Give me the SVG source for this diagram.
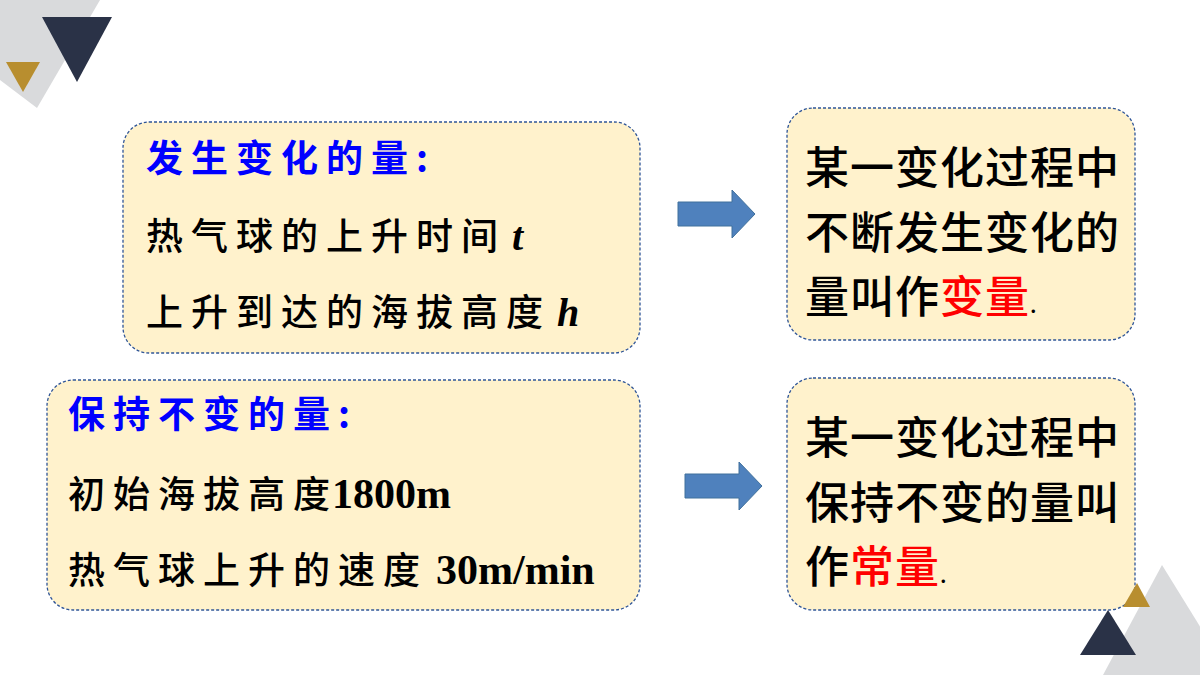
<svg xmlns="http://www.w3.org/2000/svg" width="1200" height="675" viewBox="0 0 1200 675">
<style>
.box{fill:#FFF2CC;stroke:#2F5597;stroke-width:1.3;stroke-dasharray:3 2}
.arr{fill:#4F81BD;stroke:#41719C;stroke-width:1}
.t{font-family:"Noto Sans CJK SC",sans-serif;font-size:37px;fill:#000;letter-spacing:8px;font-weight:500}
.h{fill:#0000FF;font-weight:bold}
.b{font-family:"Noto Sans CJK SC",sans-serif;font-size:44px;fill:#000;font-weight:500;letter-spacing:1px}
.r{fill:#FF0000}
.m{font-family:"Liberation Serif",serif;font-weight:bold;letter-spacing:0}
</style>
<rect width="1200" height="675" fill="#fff"/>
<polygon points="-10,0 100,0 37,108 0,80" fill="#D9DADC"/>
<polygon points="42,17 112,17 77,82" fill="#2A3247"/>
<polygon points="6,62 40,62 23,92" fill="#B88E2F"/>
<polygon points="1162,565 1230,675 1103,675" fill="#D9DADC"/>
<g id="n1"><rect class="box" x="123" y="122" width="517" height="231" rx="26"/>
<text class="t h" x="146" y="172">发生变化的量:</text>
<text class="t" x="146" y="250">热气球的上升时间<tspan class="m" font-style="italic" font-size="40" dx="6">t</tspan></text>
<text class="t" x="146" y="326">上升到达的海拔高度<tspan class="m" font-style="italic" font-size="40" dx="6">h</tspan></text></g>
<g id="n2"><rect class="box" x="47" y="380" width="593" height="230" rx="26"/>
<text class="t h" x="68" y="428">保持不变的量:</text>
<text class="t" x="68" y="508">初始海拔高度<tspan class="m" font-size="42" dx="-6">1800m</tspan></text>
<text class="t" x="68" y="584">热气球上升的速度<tspan class="m" font-size="42" dx="8">30m/min</tspan></text></g>
<g id="n3"><rect class="box" x="787" y="108" width="348" height="232" rx="26"/>
<text class="b" x="805" y="184">某一变化过程中</text>
<text class="b" x="805" y="249">不断发生变化的</text>
<text class="b" x="805" y="313">量叫作<tspan class="r">变量</tspan><tspan font-size="22">.</tspan></text></g>
<g id="n4"><rect class="box" x="787" y="378" width="348" height="232" rx="26"/>
<text class="b" x="805" y="454">某一变化过程中</text>
<text class="b" x="805" y="519">保持不变的量叫</text>
<text class="b" x="805" y="583">作<tspan class="r">常量</tspan><tspan font-size="22">.</tspan></text></g>
<polygon points="1108,610 1136,655 1080,655" fill="#2A3247"/>
<polygon points="1137,583 1150,607 1123,607" fill="#B88E2F"/>
<g id="connectors">
<polygon class="arr" points="678,202 732,202 732,190 755,214 732,238 732,226 678,226"/>
<polygon class="arr" points="685,474 739,474 739,462 762,486 739,510 739,498 685,498"/>
</g>
</svg>
